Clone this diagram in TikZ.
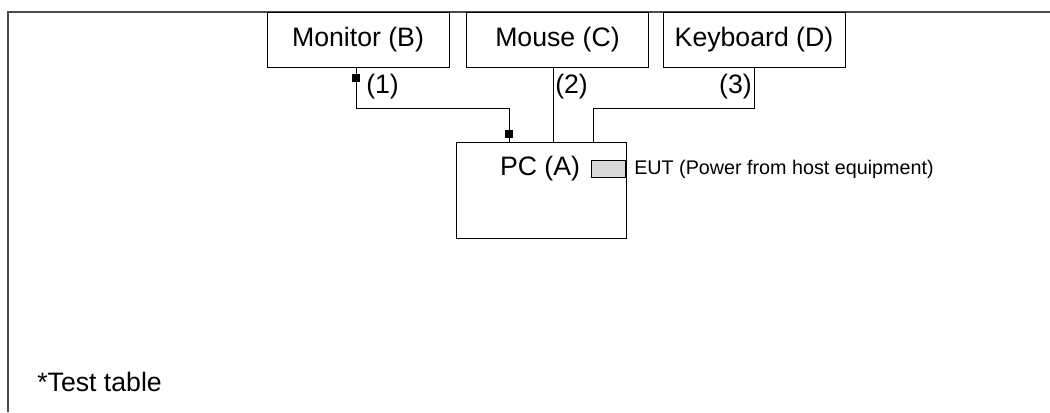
\documentclass[tikz,border=0pt]{standalone}
\usepackage{fontspec}
\setmainfont{Liberation Sans}
\usetikzlibrary{positioning}
\definecolor{ink}{HTML}{000000}
\definecolor{frame}{HTML}{4A4A4A}
\definecolor{plate}{HTML}{D9D9D9}
\tikzset{
  unit/.style={draw=ink,line width=.75pt,minimum width=136.5pt,minimum height=41.25pt,inner sep=0pt,font=\fontsize{20}{24}\selectfont},
  hostbox/.style={draw=ink,line width=.75pt,minimum width=127.5pt,minimum height=72pt,inner sep=0pt},
  tag/.style={inner sep=0pt,font=\fontsize{20}{24}\selectfont},
  note/.style={inner sep=0pt,font=\fontsize{14.8}{18}\selectfont},
  plug/.style={fill=ink,minimum width=6pt,minimum height=6pt,inner sep=0pt},
  cable/.style={draw=ink,line width=.75pt},
}
\begin{document}
\begin{tikzpicture}[x=.75pt,y=-.75pt]
  \useasboundingbox (0,0) rectangle (1050,412);
  % open frame, top and left edge only
  \draw[frame,line width=1.5pt] (1050,12) -- (8,12) -- (8,412);
  % peripherals
  \node[unit] (mon) at (358,39.5) {Monitor (B)};
  \node[unit] (mouse) at (557.5,39.5) {Mouse (C)};
  \node[unit] (kbd) at (754,39.5) {Keyboard (D)};
  % host
  \node[hostbox] (pc) at (541,190) {};
  \node[tag] (pclbl) at (540,169) {PC (A)};
  \node[draw=ink,line width=.6pt,fill=plate,minimum width=25.5pt,minimum height=12.75pt,inner sep=0pt,anchor=east] (eut) at (626,168.5) {};
  \node[note,anchor=west] (eutlbl) at (634,169) {EUT (Power from host equipment)};
  % connectors
  \node[plug] (plugb) at (356,78) {};
  \node[plug] (pluga) at (509,134) {};
  \coordinate (bendb) at (356,108);
  \coordinate (bendd) at (754,108);
  \draw[cable] (mon.south -| plugb) -- (plugb) -- (bendb) -| (pluga) -- (pluga |- pc.north);
  \draw[cable] (553,67) -- (553,142);
  \draw[cable] (kbd.south) -- (bendd) -| (593,142);
  % cable numbers
  \node[tag,anchor=west] (c1) at (366,87) {(1)};
  \node[tag,anchor=west] (c2) at (555,87) {(2)};
  \node[tag,anchor=east] (c3) at (752,87) {(3)};
  \node[tag,anchor=west] (tbl) at (37,382) {*Test table};
\end{tikzpicture}
\end{document}
